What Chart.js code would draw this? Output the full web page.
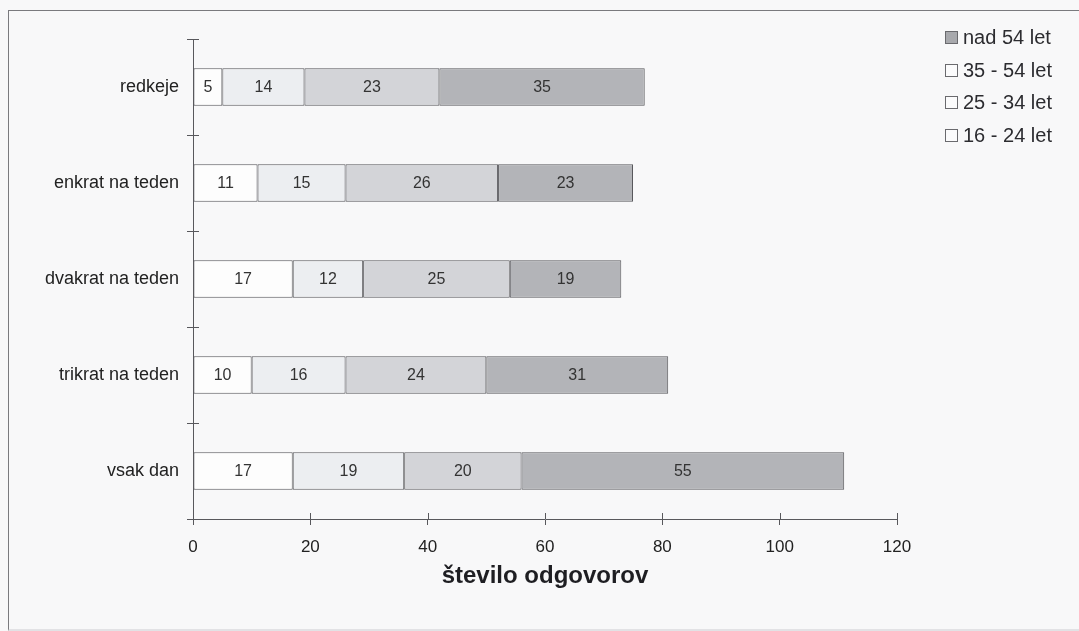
<!DOCTYPE html>
<html>
<head>
<meta charset="utf-8">
<script src="https://cdn.jsdelivr.net/npm/chart.js@4/dist/chart.umd.min.js"></script>
<style>
  html, body { margin: 0; padding: 0; background: #f8f8f9; }
  #wrap { position: relative; width: 1079px; height: 631px; overflow: hidden; }
  #frame { position: absolute; left: 8px; top: 10px; width: 1080px; height: 618px;
           border-left: 1px solid #7a7a7e; border-top: 1px solid #7a7a7e; border-bottom: 2px solid #e2e2e5; }
  canvas { position: absolute; left: 0; top: 0; }
</style>
</head>
<body>
<div id="wrap">
  <div id="frame"></div>
  <canvas id="chart" width="1079" height="631"></canvas>
</div>
<script>
var categories = ['redkeje', 'enkrat na teden', 'dvakrat na teden', 'trikrat na teden', 'vsak dan'];
var age16to24 = [5, 11, 17, 10, 17];
var age25to34 = [14, 15, 12, 16, 19];
var age35to54 = [23, 26, 25, 24, 20];
var ageOver54 = [35, 23, 19, 31, 55];
var xTicks = [0, 20, 40, 60, 80, 100, 120];

var FONT = "'Liberation Sans', Arial, sans-serif";
var NARROW = "'Liberation Sans Narrow', 'Arial Narrow', 'Liberation Sans', sans-serif";
var BORDER = '#58585c';

// value labels in the middle of every segment
var valueLabels = {
  id: 'valueLabels',
  afterDatasetsDraw(chart) {
    var ctx = chart.ctx;
    ctx.save();
    ctx.font = '16px ' + NARROW;
    ctx.fillStyle = '#333';
    ctx.textAlign = 'center';
    ctx.textBaseline = 'middle';
    chart.data.datasets.forEach(function (ds, i) {
      chart.getDatasetMeta(i).data.forEach(function (bar, j) {
        var mid = (bar.x + bar.base) / 2;
        ctx.fillText(ds.data[j], mid, bar.y + 1);
      });
    });
    ctx.restore();
  }
};

// tick marks that cross the axis lines, plus legend at top right
var extras = {
  id: 'extras',
  afterDraw(chart) {
    var ctx = chart.ctx;
    var xs = chart.scales.x, ys = chart.scales.y;
    var area = chart.chartArea;
    ctx.save();
    ctx.strokeStyle = BORDER;
    ctx.lineWidth = 1;
    xTicks.forEach(function (v) {
      var px = Math.round(xs.getPixelForValue(v)) + 0.5;
      ctx.beginPath();
      ctx.moveTo(px, area.bottom - 6);
      ctx.lineTo(px, area.bottom);
      ctx.stroke();
    });
    var step = ys.getPixelForValue(1) - ys.getPixelForValue(0);
    for (var k = 0; k < categories.length; k++) {
      var py = Math.round(ys.getPixelForValue(k) - step / 2) + 0.5;
      ctx.beginPath();
      ctx.moveTo(area.left, py);
      ctx.lineTo(area.left + 6, py);
      ctx.stroke();
    }

    // legend, last series first
    ctx.font = '20px ' + FONT;
    ctx.textBaseline = 'middle';
    ctx.textAlign = 'left';
    var dss = chart.data.datasets.slice().reverse();
    dss.forEach(function (ds, i) {
      var cy = Math.round(37 + i * 32.7);
      ctx.fillStyle = i === 0 ? '#a8a9ad' : '#fbfbfc';
      ctx.fillRect(945, cy - 6, 13, 13);
      ctx.strokeStyle = '#6a6a6e';
      ctx.strokeRect(945.5, cy - 5.5, 12, 12);
      ctx.fillStyle = '#2c2c30';
      ctx.fillText(ds.label, 963, cy + 1);
    });
    ctx.restore();
  }
};

new Chart(document.getElementById('chart'), {
  type: 'bar',
  data: {
    labels: categories,
    datasets: [
      { label: '16 - 24 let', data: age16to24, backgroundColor: '#fdfdfd' },
      { label: '25 - 34 let', data: age25to34, backgroundColor: '#eceef1' },
      { label: '35 - 54 let', data: age35to54, backgroundColor: '#d3d4d8' },
      { label: 'nad 54 let', data: ageOver54, backgroundColor: '#b3b4b8' }
    ].map(function (d) {
      d.borderColor = BORDER;
      d.borderWidth = 1;
      d.borderSkipped = false;
      d.categoryPercentage = 1;
      d.barPercentage = 0.39;
      return d;
    })
  },
  options: {
    indexAxis: 'y',
    responsive: false,
    animation: false,
    layout: { padding: { top: 39, left: 0, right: 182, bottom: 40 } },
    plugins: {
      legend: { display: false },
      tooltip: { enabled: false }
    },
    scales: {
      x: {
        stacked: true,
        min: 0,
        max: 120,
        afterFit: function (s) { s.height = 72; },
        afterBuildTicks: function (s) { s.ticks = xTicks.map(function (v) { return { value: v }; }); },
        grid: { drawOnChartArea: false, tickLength: 6, color: BORDER },
        border: { display: true, color: BORDER, width: 1 },
        ticks: { font: { family: FONT, size: 17 }, color: '#222', padding: 12, maxRotation: 0 },
        title: {
          display: true,
          text: 'število odgovorov',
          font: { family: FONT, size: 24, weight: 'bold' },
          color: '#1e1e22',
          padding: { top: 4, bottom: 0 }
        }
      },
      y: {
        stacked: true,
        afterFit: function (s) { s.width = 193; },
        grid: { drawOnChartArea: false, offset: true, tickLength: 6, color: BORDER },
        border: { display: true, color: BORDER, width: 1 },
        ticks: { font: { family: FONT, size: 18 }, color: '#222', padding: 8 }
      }
    }
  },
  plugins: [valueLabels, extras]
});
</script>
</body>
</html>
